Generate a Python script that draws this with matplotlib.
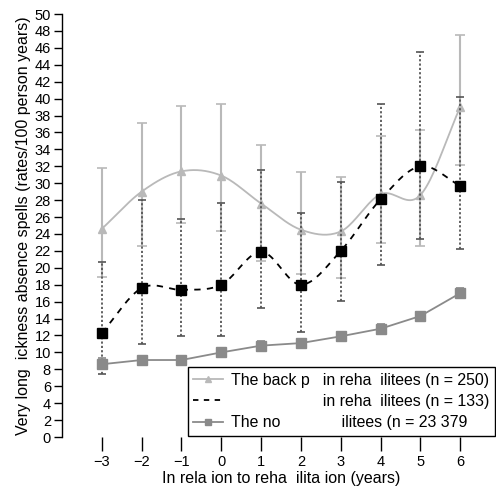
import matplotlib
matplotlib.use("Agg")
import matplotlib.pyplot as plt
import numpy as np

# data
years = [-3, -2, -1, 0, 1, 2, 3, 4, 5, 6]

back = [24.6, 29.0, 31.4, 30.9, 27.6, 24.5, 24.3, 28.7, 28.6, 39.0]
back_lo = [18.9, 22.6, 25.3, 24.3, 20.8, 19.3, 18.8, 22.9, 22.6, 32.2]
back_hi = [31.8, 37.1, 39.1, 39.4, 34.5, 31.3, 30.7, 35.6, 36.3, 47.5]

mid = [12.3, 17.6, 17.4, 18.0, 21.9, 18.0, 22.0, 28.1, 32.0, 29.7]
mid_lo = [7.5, 11.0, 11.9, 11.9, 15.2, 12.4, 16.1, 20.3, 23.4, 22.2]
mid_hi = [20.7, 28.0, 25.8, 27.7, 31.6, 26.5, 30.1, 39.4, 45.5, 40.2]

non = [8.6, 9.1, 9.1, 10.0, 10.8, 11.1, 11.9, 12.8, 14.3, 17.0]
non_lo = [8.0, 8.6, 8.6, 9.5, 10.3, 10.6, 11.4, 12.3, 13.8, 16.4]
non_hi = [9.3, 9.6, 9.6, 10.5, 11.3, 11.6, 12.4, 13.3, 14.8, 17.6]

labels = ["The back p   in reha  ilitees (n = 250)",
          " " * 21 + "in reha  ilitees (n = 133)",
          "The no" + " " * 14 + "ilitees (n = 23 379"]


def smooth(x, y, n=20):
    # catmull-rom curve through the points (for drawing only)
    x = np.asarray(x, float)
    y = np.asarray(y, float)
    px = np.concatenate(([2 * x[0] - x[1]], x, [2 * x[-1] - x[-2]]))
    py = np.concatenate(([2 * y[0] - y[1]], y, [2 * y[-1] - y[-2]]))
    xs, ys = [], []
    t = np.linspace(0, 1, n, endpoint=False)
    for i in range(1, len(px) - 2):
        for p, out in ((px, xs), (py, ys)):
            p0, p1, p2, p3 = p[i - 1], p[i], p[i + 1], p[i + 2]
            out.extend(0.5 * (2 * p1 + (-p0 + p2) * t
                              + (2 * p0 - 5 * p1 + 4 * p2 - p3) * t ** 2
                              + (-p0 + 3 * p1 - 3 * p2 + p3) * t ** 3))
    xs.append(x[-1])
    ys.append(y[-1])
    return np.array(xs), np.array(ys)


plt.rcParams['font.family'] = ['Liberation Sans', 'DejaVu Sans']
fig = plt.figure(figsize=(4.96, 4.88), dpi=100)
ax = fig.add_axes([0.125, 0.1045, 0.843, 0.8668])

light = '#b9b9b9'
grey = '#8a8a8a'

yr = np.array(years)

# back pain rehabilitees
ax.errorbar(yr, back, yerr=[np.array(back) - back_lo, np.array(back_hi) - back],
            fmt='none', ecolor=light, elinewidth=1.5, capsize=3.5, capthick=1.2, zorder=2)
sx, sy = smooth(years, back)
ax.plot(sx, sy, color=light, lw=1.3, zorder=3)
ax.plot(yr, back, ls='none', marker='^', color=light, ms=6, zorder=3)

# second rehabilitee group
eb = ax.errorbar(yr, mid, yerr=[np.array(mid) - mid_lo, np.array(mid_hi) - mid],
                 fmt='none', ecolor='#555555', elinewidth=1.3, capsize=3, capthick=1.2, zorder=4)
eb[2][0].set_linestyle((0, (1.2, 1.2)))
mx, my = smooth(years, mid)
ax.plot(mx, my, color='black', lw=1.3, ls=(0, (3.5, 3.5)), zorder=5)
ax.plot(yr, mid, ls='none', marker='s', color='black', ms=7, zorder=6)

# non-rehabilitees
ax.errorbar(yr, non, yerr=[np.array(non) - non_lo, np.array(non_hi) - non],
            fmt='none', ecolor=grey, elinewidth=1.3, capsize=3, capthick=1.2, zorder=4)
ax.plot(yr, non, color=grey, lw=1.3, marker='s', ms=7, zorder=5)

h1, = ax.plot([], [], color=light, lw=1.3, marker='^', ms=4)
h2, = ax.plot([], [], color='black', lw=1.3, ls=(0, (3, 3)))
h3, = ax.plot([], [], color=grey, lw=1.3, marker='s', ms=5)
leg = ax.legend([h1, h2, h3], labels, loc='lower right', fontsize=11.4,
                bbox_to_anchor=(0.998, 0.107), bbox_transform=fig.transFigure,
                fancybox=False, framealpha=1, edgecolor='black',
                handlelength=1.9, handletextpad=0.5, labelspacing=0.4,
                borderpad=0.35, borderaxespad=0)
leg.get_frame().set_linewidth(1.0)

ax.set_xlim(-4, 6.5)
ax.set_ylim(0, 50)
ax.set_yticks(range(0, 51, 2))
ax.set_xticks(years)
ax.set_xticklabels(['\u2212%d' % -v if v < 0 else str(v) for v in years])
for s in ('top', 'right', 'bottom'):
    ax.spines[s].set_visible(False)
ax.spines['left'].set_linewidth(1.0)
ax.tick_params(axis='y', length=6, width=1, labelsize=10.5, pad=2)
ax.tick_params(axis='x', length=10, width=1, labelsize=10.5, pad=3)

ax.set_xlabel('In rela ion to reha  ilita ion (years)', fontsize=11.5)
ax.xaxis.set_label_coords(0.524, -0.08)
ax.set_ylabel('Very long  ickness absence spells (rates/100 person years)', fontsize=11.5)
ax.yaxis.set_label_coords(-0.075, 0.5)

fig.savefig('out.png', dpi=100)
